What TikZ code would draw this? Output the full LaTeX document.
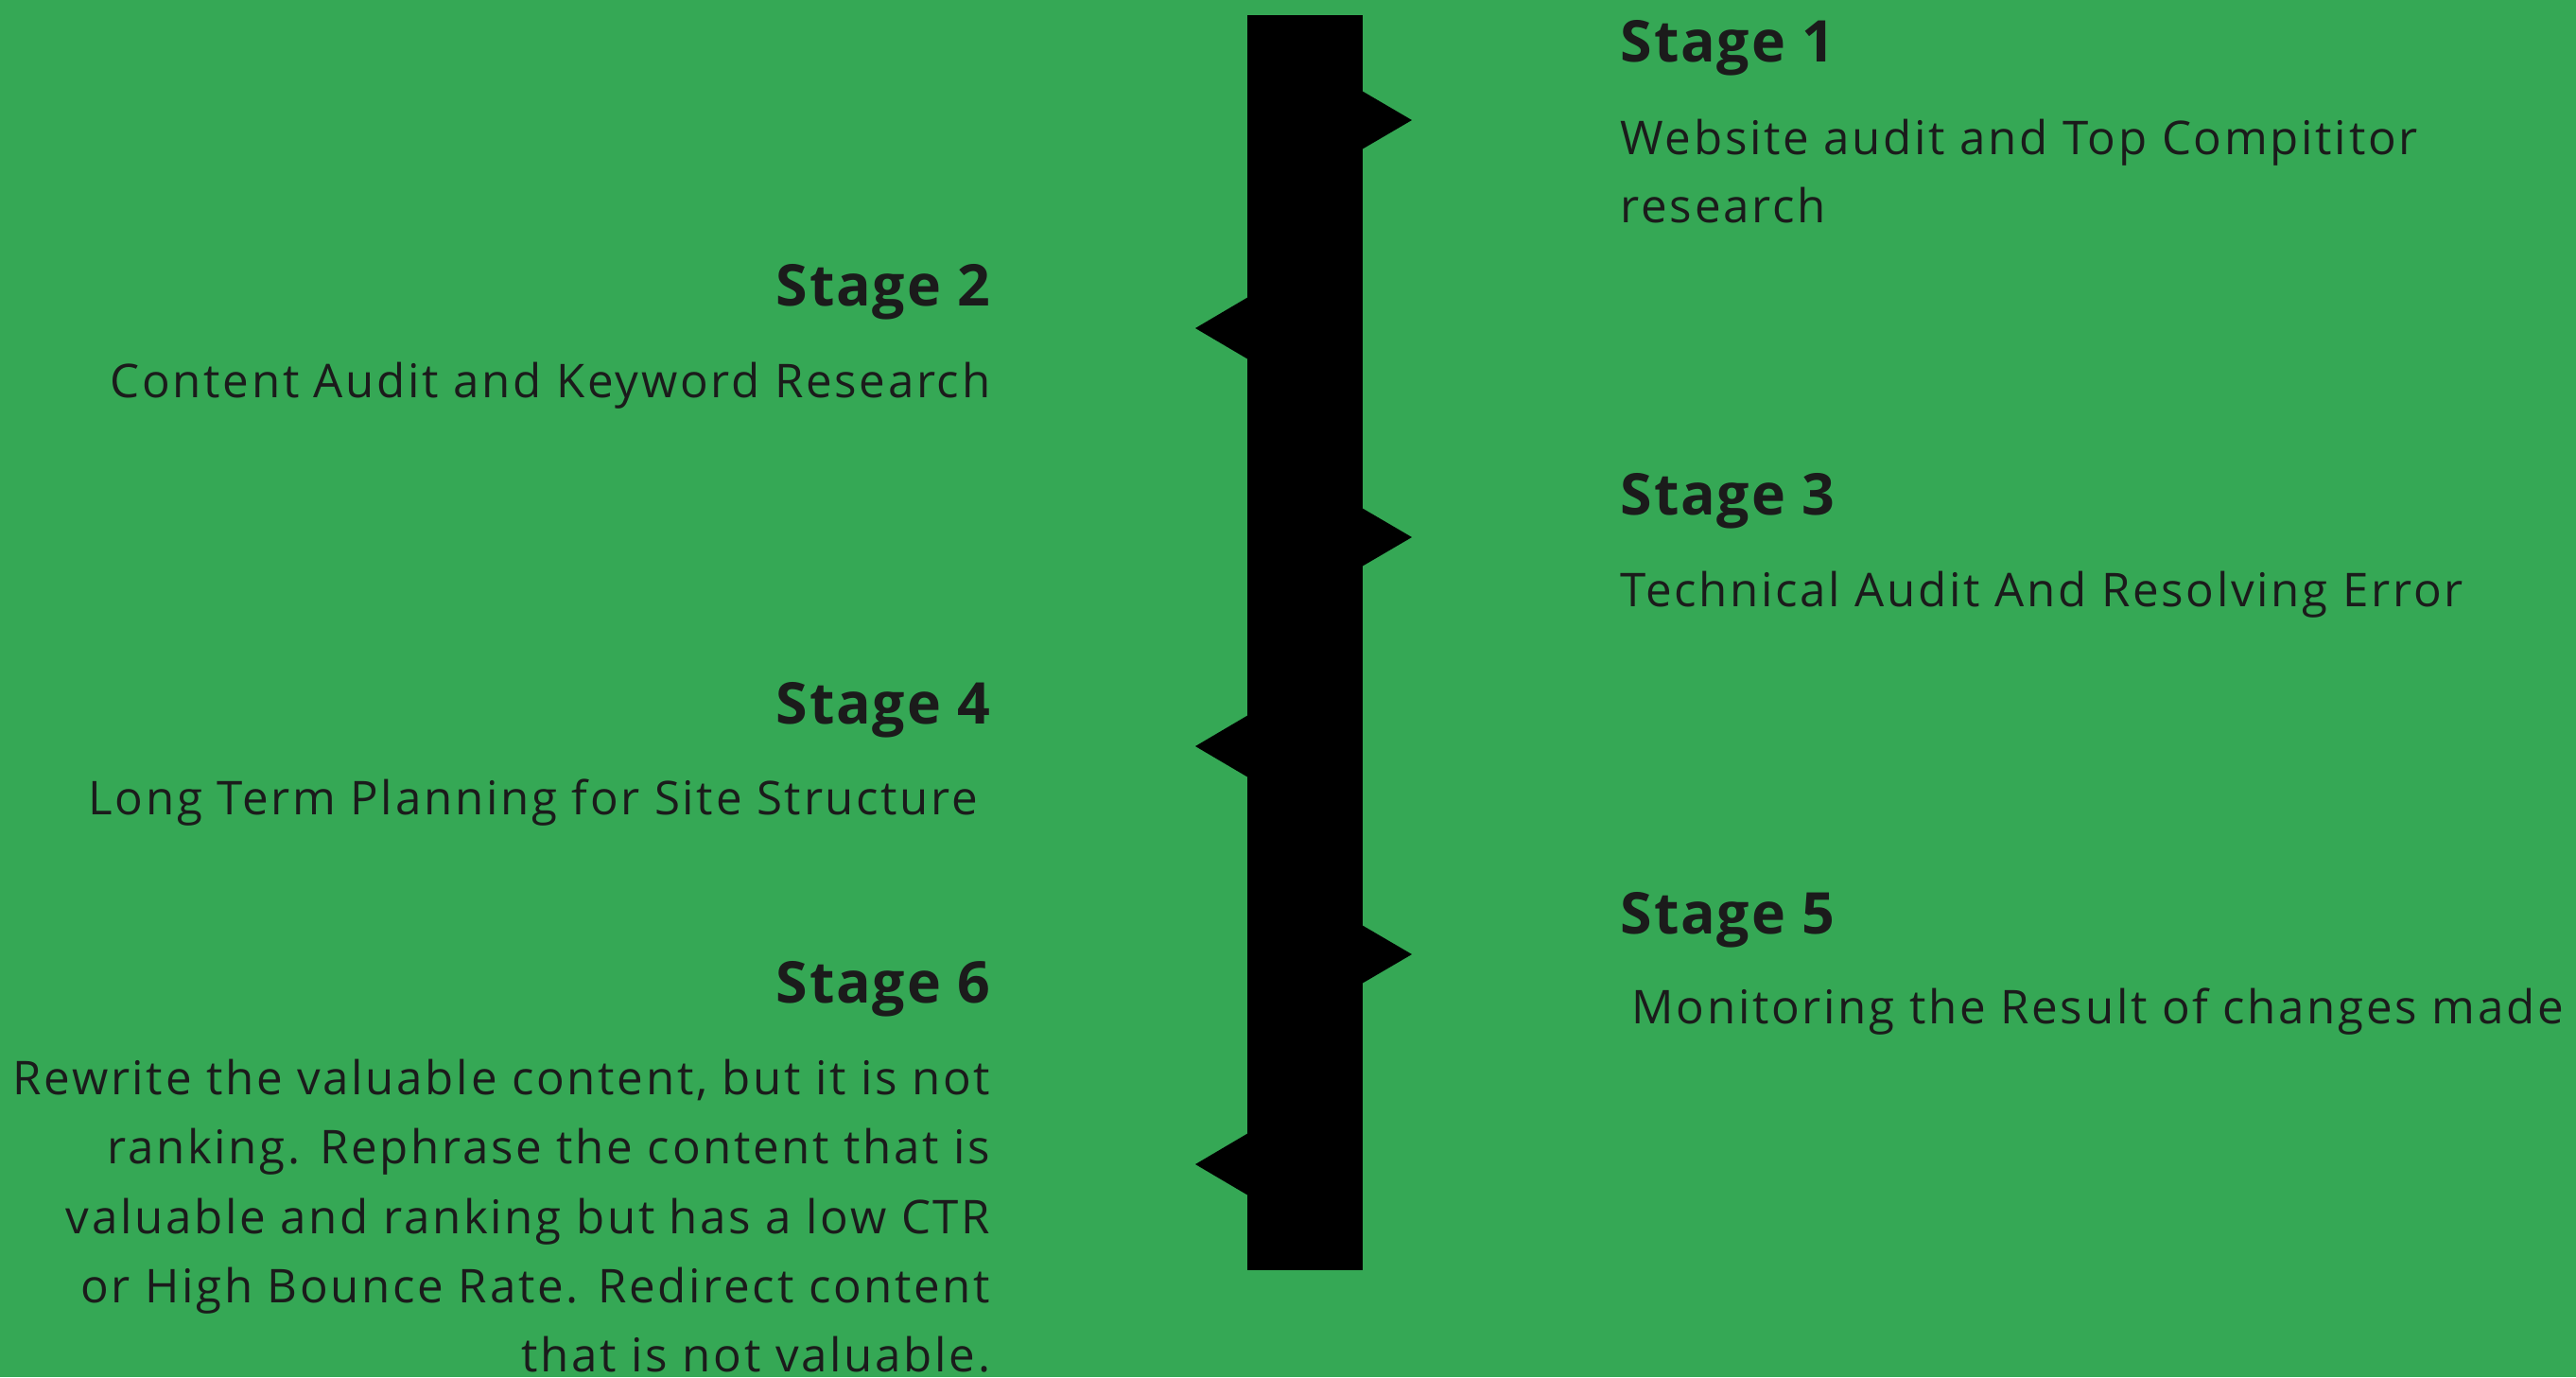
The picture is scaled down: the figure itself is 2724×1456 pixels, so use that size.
\documentclass[tikz,border=0pt]{standalone}
\usepackage{fontspec}
\setmainfont{Open Sans}
\newfontfamily\bodyfont[LetterSpace=5.5]{Open Sans}
\newfontfamily\headfont[LetterSpace=3]{Open Sans}
\definecolor{bg}{HTML}{35A855}
\definecolor{ink}{HTML}{1B1B1B}
\begin{document}
\begin{tikzpicture}[x=0.01cm,y=-0.01cm,
  head/.style={font=\headfont\bfseries\fontsize{17.3}{21}\selectfont, text=ink, inner sep=0pt},
  body/.style={font=\bodyfont\fontsize{14.0}{20.8}\selectfont, text=ink, inner sep=0pt},
  barfill/.style={fill=black}]
\fill[bg] (0,0) rectangle (2724,1456);
\useasboundingbox (0,0) rectangle (2724,1456);
% central bar
\fill[barfill] (1319,16) rectangle (1441,1343);
% right pointers
\foreach \yy in {127,568,1009}{
  \fill[barfill] (1440,\yy-31) -- (1493,\yy) -- (1440,\yy+31) -- cycle;}
% left pointers
\foreach \yy in {347,789,1231}{
  \fill[barfill] (1320,\yy-33) -- (1264,\yy) -- (1320,\yy+33) -- cycle;}
% right column
\node[head, anchor=base west] (h1) at (1713,65) {Stage 1};
\node[body, anchor=base west] (b1a) at (1713,163) {Website audit and Top Compititor};
\node[body, anchor=base west] (b1b) at (1713,235) {research};
\node[head, anchor=base west] (h3) at (1713,544) {Stage 3};
\node[body, anchor=base west] (b3) at (1713,641) {Technical Audit And Resolving Error};
\node[head, anchor=base west] (h5) at (1713,987) {Stage 5};
\node[body, anchor=base west] (b5) at (1725,1082) {Monitoring the Result of changes made};
% left column
\node[head, anchor=base east] (h2) at (1048,323) {Stage 2};
\node[body, anchor=base east] (b2) at (1048,420) {Content Audit and Keyword Research};
\node[head, anchor=base east] (h4) at (1048,765) {Stage 4};
\node[body, anchor=base east] (b4) at (1035,861) {Long Term Planning for Site Structure};
\node[head, anchor=base east] (h6) at (1048,1060) {Stage 6};
\node[body, anchor=base east] (b6a) at (1048,1157) {Rewrite the valuable content, but it is not};
\node[body, anchor=base east] (b6b) at (1048,1230) {ranking. Rephrase the content that is};
\node[body, anchor=base east] (b6c) at (1048,1304) {valuable and ranking but has a low CTR};
\node[body, anchor=base east] (b6d) at (1048,1377) {or High Bounce Rate. Redirect content};
\node[body, anchor=base east] (b6e) at (1048,1450) {that is not valuable.};
\end{tikzpicture}
\end{document}
